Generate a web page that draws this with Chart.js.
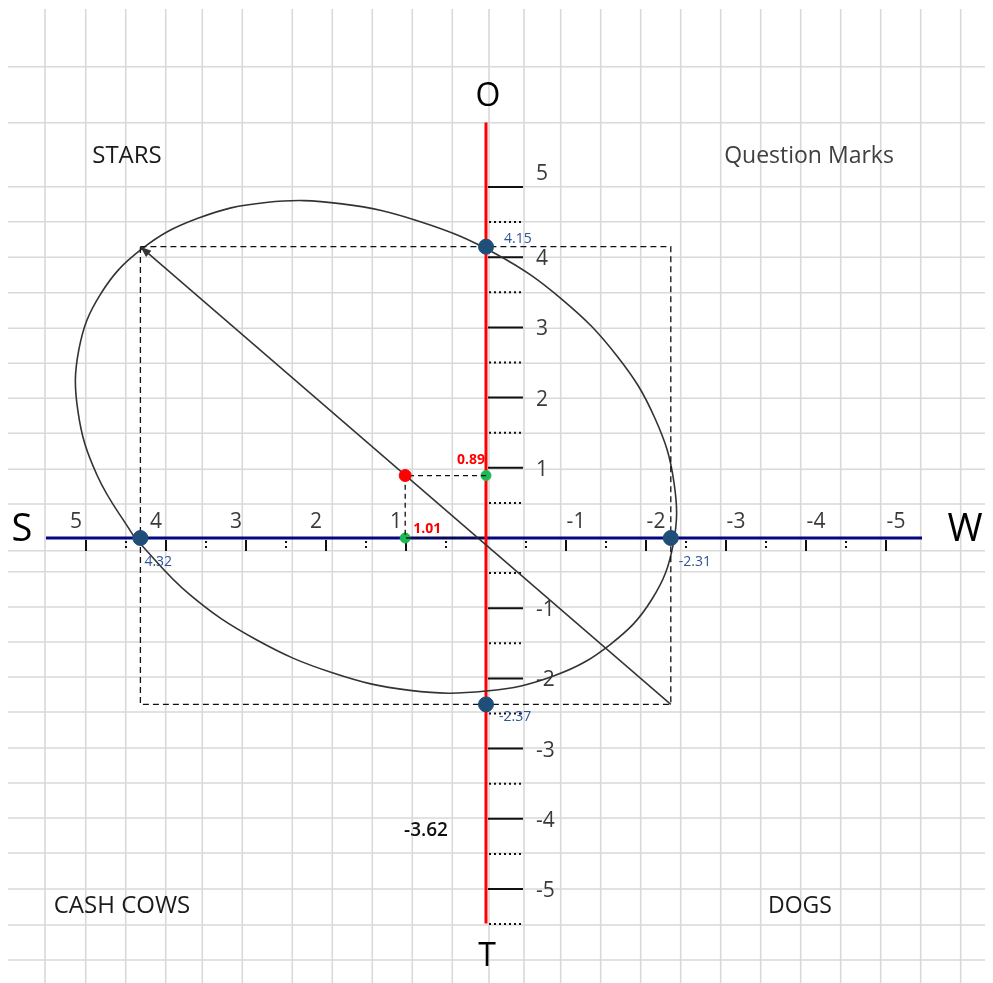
<!DOCTYPE html>
<html>
<head>
<meta charset="utf-8">
<script src="https://cdn.jsdelivr.net/npm/chart.js@4.4.1/dist/chart.umd.min.js"></script>
<style>
  html, body { margin: 0; padding: 0; background: #fff; }
  #wrap { width: 993px; height: 983px; }
</style>
</head>
<body>
<div id="wrap"><canvas id="swot" width="993" height="983"></canvas></div>
<script>
// tick values on both axes
const xTickValues = [5, 4, 3, 2, 1, -1, -2, -3, -4, -5];
const xHalfTicks = [4.5, 3.5, 2.5, 1.5, 0.5, -0.5, -1.5, -2.5, -3.5, -4.5];
const yTickValues = [5, 4, 3, 2, 1, -1, -2, -3, -4, -5];
const yHalfTicks = [4.5, 3.5, 2.5, 1.5, 0.5, -0.5, -1.5, -2.5, -3.5, -4.5, -5.5];

// intercepts (S / W on x, O / T on y)
const interceptX = [4.32, -2.31, 0, 0];
const interceptY = [0, 0, 4.15, -2.37];
const interceptLabels = ['4.32', '-2.31', '4.15', '-2.37'];

// strategic position
const posX = 1.01;
const posY = 0.89;
const extraValue = '-3.62';

// ellipse
const ellipseX = [4.39, 4.86, 5.10, 5.09, 4.82, 4.31, 3.61, 2.75, 1.80, 0.83, -0.12, -0.96, -1.64, -2.11, -2.35, -2.34, -2.07, -1.56, -0.86, 0.00, 0.95, 1.92, 2.87, 3.71, 4.39];
const ellipseY = [0.00, 0.89, 1.80, 2.68, 3.47, 4.11, 4.55, 4.78, 4.76, 4.51, 4.05, 3.39, 2.59, 1.71, 0.79, -0.09, -0.88, -1.51, -1.96, -2.18, -2.17, -1.92, -1.45, -0.80, 0.00];

// spreadsheet background cells (pixels)
const colLines = [45, 85.7, 125.7, 165.7, 202.3, 242.3, 292.3, 332.3, 372.3, 412.3, 452.3, 489, 524, 560.7, 600.7, 640.7, 680.7, 720.7, 760.7, 800.7, 840.7, 880.7, 920.7, 960.7];
const rowLines = [66.7, 122.7, 186.7, 221.7, 257.3, 292.7, 328.3, 363.3, 398.3, 433.3, 469.3, 504, 550.7, 571.7, 607, 642, 677, 712, 748, 783, 818, 853, 889, 925, 960];

const FONT = '"Open Sans", "Noto Sans", sans-serif';

function pts(xs, ys) {
    return xs.map((x, i) => ({x: x, y: ys[i]}));
}

const gridPlugin = {
    id: 'sheetGrid',
    beforeDraw(chart) {
        const c = chart.ctx;
        c.save();
        c.fillStyle = '#fff';
        c.fillRect(0, 0, chart.width, chart.height);
        c.strokeStyle = '#d9d9d9';
        c.lineWidth = 1.6;
        colLines.forEach(x => {
            c.beginPath(); c.moveTo(x, 9); c.lineTo(x, chart.height); c.stroke();
        });
        rowLines.forEach(y => {
            c.beginPath(); c.moveTo(8, y); c.lineTo(chart.width - 8, y); c.stroke();
        });
        c.restore();
    }
};

const axesPlugin = {
    id: 'centerAxes',
    beforeDatasetsDraw(chart) {
        const c = chart.ctx;
        const xs = chart.scales.x, ys = chart.scales.y;
        const x0 = xs.getPixelForValue(0), y0 = ys.getPixelForValue(0);
        c.save();
        // ticks on x
        c.strokeStyle = '#111';
        c.lineWidth = 2;
        xTickValues.forEach(v => {
            const px = xs.getPixelForValue(v);
            c.beginPath(); c.moveTo(px, y0 + 2); c.lineTo(px, y0 + 13); c.stroke();
        });
        c.setLineDash([2, 3]);
        xHalfTicks.forEach(v => {
            const px = xs.getPixelForValue(v);
            c.beginPath(); c.moveTo(px, y0 + 3); c.lineTo(px, y0 + 13); c.stroke();
        });
        // ticks on y
        c.setLineDash([]);
        yTickValues.forEach(v => {
            const py = ys.getPixelForValue(v);
            c.beginPath(); c.moveTo(x0 + 2, py); c.lineTo(x0 + 37, py); c.stroke();
        });
        c.setLineDash([2, 3]);
        yHalfTicks.forEach(v => {
            const py = ys.getPixelForValue(v);
            c.beginPath(); c.moveTo(x0 + 3, py); c.lineTo(x0 + 37, py); c.stroke();
        });
        c.setLineDash([]);
        // axis lines
        c.lineWidth = 3;
        c.strokeStyle = '#06067e';
        c.beginPath();
        c.moveTo(xs.getPixelForValue(5.5), y0);
        c.lineTo(xs.getPixelForValue(-5.45), y0);
        c.stroke();
        c.strokeStyle = '#ff0000';
        c.beginPath();
        c.moveTo(x0, ys.getPixelForValue(5.92));
        c.lineTo(x0, ys.getPixelForValue(-5.49));
        c.stroke();

        // tick labels
        c.fillStyle = '#3a3a3a';
        c.font = '21px ' + FONT;
        c.textAlign = 'center';
        c.textBaseline = 'middle';
        xTickValues.forEach(v => {
            const px = xs.getPixelForValue(v) + (v > 0 ? -10 : 10);
            c.fillText(String(v), px, y0 - 16);
        });
        c.textAlign = 'left';
        yTickValues.forEach(v => {
            c.fillText(String(v), x0 + 50, ys.getPixelForValue(v) + (v === 5 ? -13 : 2));
        });
        c.restore();
    }
};

const labelPlugin = {
    id: 'texts',
    afterDatasetsDraw(chart) {
        const c = chart.ctx;
        const xs = chart.scales.x, ys = chart.scales.y;
        c.save();
        // arrow head on the diagonal
        const diag = chart.getDatasetMeta(4).data;
        const a = diag[0], b = diag[1];
        const ang = Math.atan2(b.y - a.y, b.x - a.x);
        c.fillStyle = '#333';
        c.beginPath();
        c.moveTo(b.x, b.y);
        c.lineTo(b.x - 11 * Math.cos(ang) + 4 * Math.sin(ang), b.y - 11 * Math.sin(ang) - 4 * Math.cos(ang));
        c.lineTo(b.x - 11 * Math.cos(ang) - 4 * Math.sin(ang), b.y - 11 * Math.sin(ang) + 4 * Math.cos(ang));
        c.closePath();
        c.fill();

        // intercept labels
        c.font = '14px ' + FONT;
        c.fillStyle = '#2f5496';
        c.textBaseline = 'middle';
        c.textAlign = 'left';
        const offs = [[4, 24], [8, 24], [18, -8], [13, 13]];
        interceptLabels.forEach((t, i) => {
            const px = xs.getPixelForValue(interceptX[i]);
            const py = ys.getPixelForValue(interceptY[i]);
            c.fillText(t, px + offs[i][0], py + offs[i][1]);
        });
        // position labels
        c.font = 'bold 14px ' + FONT;
        c.fillStyle = '#ff0000';
        c.textAlign = 'right';
        c.fillText(posY.toFixed(2), xs.getPixelForValue(0) - 1, ys.getPixelForValue(posY) - 16);
        c.textAlign = 'left';
        c.fillText(posX.toFixed(2), xs.getPixelForValue(posX) + 8, ys.getPixelForValue(0) - 9);

        // extra value
        c.font = '600 19px ' + FONT;
        c.fillStyle = '#111';
        c.textAlign = 'center';
        c.fillText(extraValue, 426, 831);

        // axis letters
        c.fillStyle = '#000';
        c.font = '32px ' + FONT;
        c.fillText('O', 488, 97);
        c.fillText('T', 487, 957);
        c.font = '38px ' + FONT;
        c.fillText('S', 22, 530);
        c.fillText('W', 965, 530);

        // quadrant names
        c.font = '24px ' + FONT;
        c.fillStyle = '#1a1a1a';
        c.fillText('STARS', 127, 156);
        c.fillText('CASH COWS', 122, 906);
        c.font = '23px ' + FONT;
        c.fillText('DOGS', 800, 906);
        c.fillStyle = '#404040';
        c.fillText('Question Marks', 809, 156);
        c.restore();
    }
};

const ctx = document.getElementById('swot');
const swotChart = new Chart(ctx, {
    type: 'scatter',
    data: {
        datasets: [
            {
                label: 'intercepts',
                data: pts(interceptX, interceptY),
                pointRadius: 7.5,
                pointBackgroundColor: '#1f4e79',
                pointBorderColor: '#1f4e79',
                order: 0
            },
            {
                label: 'position',
                data: [{x: posX, y: posY}],
                pointRadius: 6,
                pointBackgroundColor: '#ff0000',
                pointBorderColor: '#ff0000',
                order: 0
            },
            {
                label: 'projections',
                data: [{x: 0, y: posY}, {x: posX, y: posY}, {x: posX, y: 0}, {x: 0, y: 0}],
                showLine: true,
                pointRadius: 0,
                borderColor: '#111',
                borderWidth: 1.3,
                borderDash: [5, 4],
                order: 1
            },
            {
                label: 'feet',
                data: [{x: 0, y: posY}, {x: posX, y: 0}],
                pointRadius: 5,
                pointBackgroundColor: '#1db954',
                pointBorderColor: '#1db954',
                order: 2
            },
            {
                label: 'diagonal',
                data: [{x: interceptX[1], y: interceptY[3]}, {x: interceptX[0], y: interceptY[2]}],
                showLine: true,
                pointRadius: 0,
                borderColor: '#333',
                borderWidth: 1.5,
                order: 3
            },
            {
                label: 'box',
                data: [
                    {x: interceptX[0], y: interceptY[2]}, {x: interceptX[1], y: interceptY[2]},
                    {x: interceptX[1], y: interceptY[3]}, {x: interceptX[0], y: interceptY[3]},
                    {x: interceptX[0], y: interceptY[2]}
                ],
                showLine: true,
                pointRadius: 0,
                borderColor: '#111',
                borderWidth: 1.3,
                borderDash: [6, 4],
                order: 4
            },
            {
                label: 'ellipse',
                data: pts(ellipseX, ellipseY),
                showLine: true,
                pointRadius: 0,
                tension: 0.4,
                borderColor: '#333',
                borderWidth: 1.6,
                order: 5
            }
        ]
    },
    options: {
        responsive: false,
        animation: false,
        devicePixelRatio: 1,
        layout: { padding: 0, autoPadding: false },
        scales: {
            x: { type: 'linear', reverse: true, min: -6.3375, max: 6.075, display: false },
            y: { type: 'linear', min: -6.339, max: 7.664, display: false }
        },
        plugins: {
            legend: { display: false },
            tooltip: { enabled: false }
        }
    },
    plugins: [gridPlugin, axesPlugin, labelPlugin]
});
</script>
</body>
</html>
